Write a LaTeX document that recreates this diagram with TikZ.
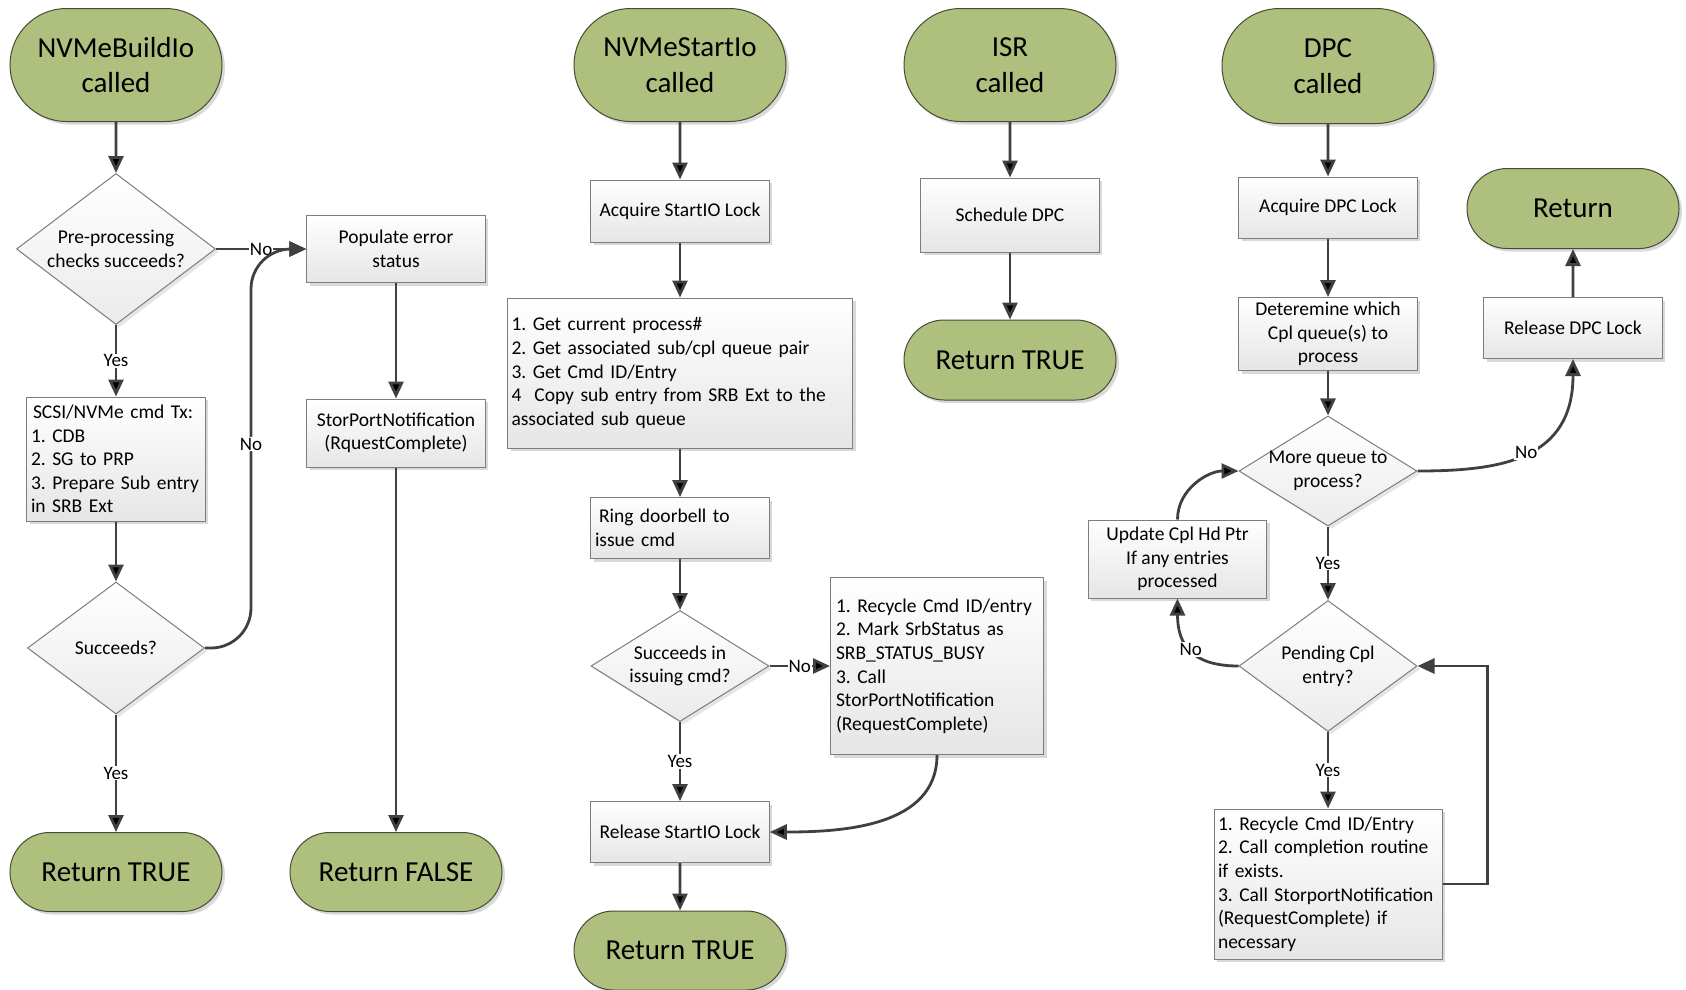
\documentclass[tikz,border=0pt]{standalone}
\usepackage{fontspec}
\setmainfont{Carlito}
\usetikzlibrary{shapes.geometric,shapes.misc,shadows,arrows.meta}
\frenchspacing
\hyphenpenalty=10000

\definecolor{termfill}{RGB}{175,191,126}
\definecolor{termline}{RGB}{70,76,52}
\definecolor{boxline}{RGB}{125,125,125}
\definecolor{flowline}{RGB}{64,64,64}

\tikzset{
  term/.style={rounded rectangle, draw=termline, line width=1pt, fill=termfill,
    minimum width=212pt, inner sep=0pt, align=center,
    font=\fontsize{29}{35.5}\selectfont,
    drop shadow={shadow xshift=3pt, shadow yshift=-3pt, fill=black!25, opacity=.6}},
  proc/.style={rectangle, draw=boxline, line width=1pt, top color=white, bottom color=black!10,
    minimum width=178.5pt, inner xsep=4pt, inner ysep=0pt, align=center,
    font=\fontsize{19.5}{23.6}\selectfont,
    drop shadow={shadow xshift=3pt, shadow yshift=-3pt, fill=black!25, opacity=.6}},
  list/.style={proc, align=left},
  dec/.style={diamond, draw=boxline, line width=1pt, top color=white, bottom color=black!8,
    inner sep=-12pt, align=center, font=\fontsize{19.5}{23.6}\selectfont,
    drop shadow={shadow xshift=3pt, shadow yshift=-3pt, fill=black!20, opacity=.5}},
  lbl/.style={fill=white, inner sep=1pt, font=\fontsize{19}{22}\selectfont},
  flow/.style={->, draw=flowline, line width=2.8pt}
}

\begin{document}
\begin{tikzpicture}[x=1pt,y=-1pt,>={Triangle[length=17pt,width=15pt]}]
\useasboundingbox (0,0) rectangle (1686,989);

% NVMeBuildIo
\node[term,minimum height=113pt]	(bld)	at (116,65)	{NVMeBuildIo\\called};
\node[dec,minimum width=199pt,minimum height=151pt]	(pre)	[node distance=184pt,below of=bld]	{Pre-processing\\checks succeeds?};
\node[proc,minimum height=67pt]	(err)	[node distance=280pt,right of=pre]	{Populate error\\status};
\node[list,text width=170pt,minimum height=124pt]	(cmd)	[node distance=210pt,below of=pre]	{\hspace*{2pt}SCSI/NVMe cmd Tx:\\1. CDB\\2. SG to PRP\\3. Prepare Sub entry\\in SRB Ext};
\node[dec,minimum width=177pt,minimum height=132pt]	(ok)	[node distance=189pt,below of=cmd]	{Succeeds?};
\node[term,minimum height=79pt]	(rtrue)	[node distance=224pt,below of=ok]	{Return TRUE};
\node[proc,minimum height=68pt]	(note)	[node distance=184pt,below of=err]	{StorPortNotification\\(RquestComplete)};
\node[term,minimum height=79pt]	(rfalse)	[node distance=439pt,below of=note]	{Return FALSE};

% NVMeStartIo
\node[term,minimum height=113pt]	(sio)	at (680,65)	{NVMeStartIo\\called};
\node[proc,minimum height=62pt]	(lock)	[node distance=146pt,below of=sio]	{Acquire StartIO Lock};
\node[list,text width=337pt,minimum width=345pt,minimum height=150pt]	(sub)	[node distance=162pt,below of=lock]
	{1. Get current process\#\\2. Get associated sub/cpl queue pair\\3. Get Cmd ID/Entry\\4\ \ Copy sub entry from SRB Ext to the\\associated sub queue};
\node[list,text width=170pt,minimum height=61pt]	(bell)	[node distance=155pt,below of=sub]	{\hspace*{4pt}Ring doorbell to\\issue cmd};
\node[dec,minimum width=178pt,minimum height=111pt]	(issued)	[node distance=138pt,below of=bell]	{Succeeds in\\issuing cmd?};
\node[list,text width=202pt,minimum width=213pt,minimum height=177pt]	(busy)	[node distance=257pt,right of=issued]
	{1. Recycle Cmd ID/entry\\2. Mark SrbStatus as\\SRB\_STATUS\_BUSY\\3. Call\\StorPortNotification\\(RequestComplete)};
\node[proc,minimum height=61pt]	(unlock)	[node distance=166pt,below of=issued]	{Release StartIO Lock};
\node[term,minimum height=79pt]	(rtrue2)	[node distance=118.5pt,below of=unlock]	{Return TRUE};

% ISR
\node[term,minimum height=113pt]	(isr)	at (1010,65)	{ISR\\called};
\node[proc,minimum height=74pt]	(sched)	[node distance=150pt,below of=isr]	{Schedule DPC};
\node[term,minimum height=80pt]	(rtrue3)	[node distance=145pt,below of=sched]	{Return TRUE};

% DPC
\node[term,minimum height=115pt]	(dpc)	at (1328,66)	{DPC\\called};
\node[proc,minimum height=61pt]	(dlock)	[node distance=141.5pt,below of=dpc]	{Acquire DPC Lock};
\node[proc,minimum height=73pt]	(which)	[node distance=126.5pt,below of=dlock]	{Deteremine which\\Cpl queue(s) to\\process};
\node[dec,minimum width=178pt,minimum height=107pt]	(more)	[node distance=137pt,below of=which]	{More queue to\\process?};
\node[dec,minimum width=178pt,minimum height=131pt]	(pend)	[node distance=195pt,below of=more]	{Pending Cpl\\entry?};
\node[list,text width=220pt,minimum width=228pt,minimum height=150pt]	(done)	[node distance=218pt,below of=pend]
	{1. Recycle Cmd ID/Entry\\2. Call completion routine\\if exists.\\3. Call StorportNotification\\(RequestComplete) if\\necessary};
\node[proc,minimum height=78pt]	(head)	at (1177.5,559)	{Update Cpl Hd Ptr\\If any entries\\processed};
\node[proc,minimum height=61pt]	(dunlock)	at (1573,328)	{Release DPC Lock};
\node[term,minimum height=80pt]	(ret)	[node distance=119.5pt,above of=dunlock]	{Return};

\path[flow]	(bld)	edge			(pre)
		(pre)	edge	node[lbl]	{No}	(err)
			edge	node[lbl]	{Yes}	(cmd)
		(cmd)	edge			(ok)
		(ok)	edge	node[lbl]	{Yes}	(rtrue)
		(err)	edge			(note)
		(note)	edge			(rfalse);
\draw[flow,rounded corners=40pt] (ok.east) -| ++(46,-204) node[lbl] {No} |- (err.west);

\path[flow]	(sio)	edge			(lock)
		(lock)	edge			(sub)
		(sub)	edge			(bell)
		(bell)	edge			(issued)
		(issued)	edge	node[lbl]	{No}	(busy)
			edge	node[lbl]	{Yes}	(unlock)
		(busy)	edge [out=-90,in=0]		(unlock)
		(unlock)	edge			(rtrue2);

\path[flow]	(isr)	edge			(sched)
		(sched)	edge			(rtrue3);

\path[flow]	(dpc)	edge			(dlock)
		(dlock)	edge			(which)
		(which)	edge			(more)
		(more)	edge	node[lbl]	{Yes}	(pend)
			edge [out=0,in=-90,out looseness=1.1,in looseness=1.35]	node[lbl]	{No}	(dunlock)
		(pend)	edge	node[lbl]	{Yes}	(done)
			edge [out=180,in=-90,looseness=1.3]	node[lbl]	{No}	(head)
		(head)	edge [out=90,in=180]		(more)
		(dunlock)	edge			(ret);
\draw[flow] (done.east) -- ++(45,0) |- (pend.east);
\end{tikzpicture}
\end{document}
